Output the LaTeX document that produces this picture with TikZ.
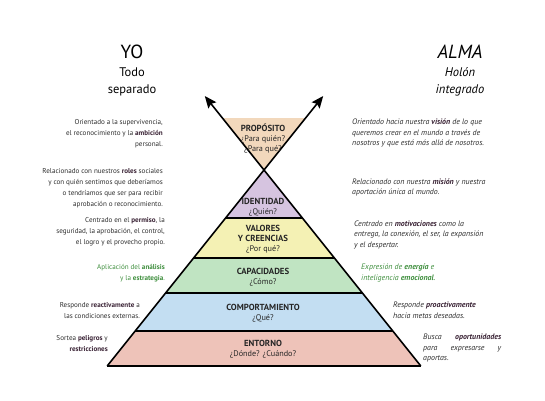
\documentclass[tikz,border=0pt]{standalone}
\usepackage{fontspec}
\setmainfont{PT Sans}
\usepackage{xcolor}
\usetikzlibrary{arrows.meta, positioning}

\definecolor{propcolor}{HTML}{F2D8BC}
\definecolor{idcolor}{HTML}{D6C4E0}
\definecolor{valcolor}{HTML}{F4F1B4}
\definecolor{capcolor}{HTML}{C0E4C2}
\definecolor{compcolor}{HTML}{C3DEF2}
\definecolor{entcolor}{HTML}{EEC3B9}
\definecolor{txtgray}{HTML}{2E2E2E}
\definecolor{txtgreen}{HTML}{3F8F3E}
\definecolor{keyword}{HTML}{3B2436}

\newcommand{\kw}[1]{\textbf{\color{keyword}#1}}
\newcommand{\kwg}[1]{\textbf{#1}}
\newcommand{\lvl}[1]{{\fontsize{8.8}{10}\selectfont\textbf{#1}}}

\begin{document}
\begin{tikzpicture}[x=1pt, y=1pt,
			line/.style={black, line width=1.6pt},
			level label/.style={align=center, inner sep=0pt, font=\fontsize{8.2}{10}\selectfont, text=black!85},
			left text/.style={align=right, anchor=east, inner sep=0pt, font=\fontsize{7.1}{11}\selectfont, text=txtgray},
			right text/.style={align=left, anchor=west, inner sep=0pt, font=\fontsize{7.9}{10.5}\selectfont\itshape, text=txtgray},
			title/.style={inner sep=0pt, font=\fontsize{19}{20}\selectfont},
			subtitle/.style={align=center, inner sep=0pt, font=\fontsize{12.5}{17}\selectfont}]
			
			\useasboundingbox[fill=white] (0,0) rectangle (545,400);
			
			% corners of the pyramid
			\coordinate (apex) at (264,230);
			\coordinate (tipL) at (204.8,304);
			\coordinate (tipR) at (323.2,304);
			
			% layers, from the top down
			\fill[propcolor] (apex) -- (222.4,282) -- (305.6,282) -- cycle;
			\fill[idcolor] (apex) -- (225.6,182) -- (302.4,182) -- cycle;
			\fill[valcolor] (225.6,182) -- (193.6,142) -- (334.4,142) -- (302.4,182) -- cycle;
			\fill[capcolor] (193.6,142) -- (165.6,107) -- (362.4,107) -- (334.4,142) -- cycle;
			\fill[compcolor] (165.6,107) -- (135.2,69) -- (392.8,69) -- (362.4,107) -- cycle;
			\fill[entcolor] (135.2,69) -- (107.2,34) -- (420.8,34) -- (392.8,69) -- cycle;
			
			\draw[line] (225.6,182) -- (302.4,182);
			\draw[line] (193.6,142) -- (334.4,142);
			\draw[line] (165.6,107) -- (362.4,107);
			\draw[line] (135.2,69) -- (392.8,69);
			\draw[line] (107.2,34) -- (420.8,34);
			\draw[line, line join=miter] (107.2,34) -- (apex) -- (420.8,34);
			
			% the two arrows out of the apex
			\draw[line, -{Stealth[length=12pt, width=10pt, inset=2pt]}] (apex) -- (tipL);
			\draw[line, -{Stealth[length=12pt, width=10pt, inset=2pt]}] (apex) -- (tipR);
			
			% labels of the levels
			\node[level label] (proposito) at (263,261) {\lvl{PROPÓSITO}\\¿Para quién?\\¿Para qué?};
			\node[level label] (identidad) at (263,193) {\lvl{IDENTIDAD}\\¿Quién?};
			\node[level label] (valores) at (263,160.5) {\lvl{VALORES}\\\lvl{Y CREENCIAS}\\¿Por qué?};
			\node[level label] (capacidades) at (263,122.5) {\lvl{CAPACIDADES}\\¿Cómo?};
			\node[level label] (comportamiento) at (263,87) {\lvl{COMPORTAMIENTO}\\¿Qué?};
			\node[level label] (entorno) at (263,51) {\lvl{ENTORNO}\\¿Dónde? ¿Cuándo?};
			
			% titles
			\node[title] (yo) at (132,348) {YO};
			\node[subtitle] (todo) at (132,318.5) {Todo\\separado};
			\node[title, font=\fontsize{19}{20}\selectfont\itshape] (alma) at (460,348) {ALMA};
			\node[subtitle, font=\fontsize{12.5}{17}\selectfont\itshape] (holon) at (460,318.5) {Holón\\integrado};
			
			% left column (yo)
			\node[left text] (yoProp) at (163,266.5) {Orientado a la supervivencia,\\el reconocimiento y la \kw{ambición}\\personal.};
			\node[left text] (yoId) at (163,212) {Relacionado con nuestros \kw{roles} sociales\\y con quién sentimos que deberíamos\\o tendríamos que ser para recibir\\aprobación o reconocimiento.};
			\node[left text] (yoVal) at (165,168) {Centrado en el \kw{permiso}, la\\seguridad, la aprobación, el control,\\el logro y el provecho propio.};
			\node[left text, text=txtgreen] (yoCap) at (165,126.5) {Aplicación del \kwg{análisis}\\y la \kwg{estrategia}.};
			\node[left text] (yoComp) at (140,89.5) {Responde \kw{reactivamente} a\\las condiciones externas.};
			\node[left text] (yoEnt) at (108,56.5) {Sortea \kw{peligros} y\\\kw{restricciones}};
			
			% right column (alma)
			\node[right text] (almaProp) at (352,267) {Orientado hacia nuestra \kw{visión} de lo que\\queremos crear en el mundo a través de\\nosotros y que está más allá de nosotros.};
			\node[right text] (almaId) at (352,212.5) {Relacionado con nuestra \kw{misión} y nuestra\\aportación única al mundo.};
			\node[right text] (almaVal) at (354,165.5) {Centrado en \kw{motivaciones} como la\\entrega, la conexión, el ser, la expansión\\y el despertar.};
			\node[right text, text=txtgreen] (almaCap) at (361,127) {Expresión de \kwg{energía} e\\inteligencia \kwg{emocional}.};
			\node[right text] (almaComp) at (393,90) {Responde \kw{proactivamente}\\hacia metas deseadas.};
			\node[right text, text width=78pt] (almaEnt) at (423,52) {Busca \hfill \kw{oportunidades}\\para \hfill expresarse \hfill y\\aportas.};
		\end{tikzpicture}
\end{document}
